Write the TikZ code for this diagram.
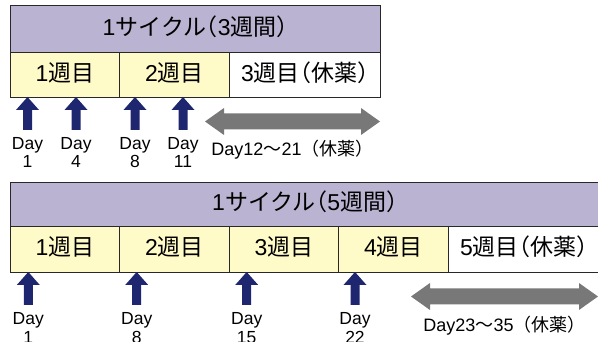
\documentclass[tikz,border=0pt]{standalone}
\usepackage{fontspec}
\setmainfont{Liberation Sans}
\newfontfamily\jph{Noto Sans CJK JP}[RawFeature=+halt]
\newfontfamily\jpf{Noto Sans CJK JP}
\definecolor{lav}{RGB}{186,179,209}
\definecolor{wkyel}{RGB}{255,251,200}
\definecolor{navyc}{RGB}{30,38,112}
\definecolor{restgray}{RGB}{120,120,120}
\definecolor{linec}{RGB}{40,40,40}
\tikzset{
  cellbox/.style={draw=linec, line width=0.9pt, inner sep=0pt, anchor=north west,
    text height=16pt, text depth=3.6pt, font=\fontsize{23}{23}\selectfont},
  hdr/.style={cellbox, fill=lav},
  wk/.style={cellbox, fill=wkyel},
  restc/.style={cellbox, fill=white},
  daylbl/.style={anchor=base, inner sep=0pt, font=\fontsize{17.5}{18}\selectfont},
  restlbl/.style={anchor=base, inner sep=0pt, font=\fontsize{18}{18}\selectfont},
  pics/druparrow/.style={code={
    \fill[navyc] (-4.5,33) -- (-4.5,13) -- (-11.5,13) -- (0,0) -- (11.5,13) -- (4.5,13) -- (4.5,33) -- cycle;}},
  pics/restarrow/.style={code={
    \fill[restgray] (0,0) -- (19,-13.5) -- (19,-8) -- (#1-19,-8) -- (#1-19,-13.5) -- (#1,0)
      -- (#1-19,13.5) -- (#1-19,8) -- (19,8) -- (19,13.5) -- cycle;}}
}
\begin{document}
\begin{tikzpicture}[x=1pt,y=-1pt]
\useasboundingbox (0,0) rectangle (598,342);
\clip (0,0) rectangle (598,342);
% ---------- top: 3-week cycle ----------
\node[hdr, minimum width=370pt, minimum height=47pt] (h3) at (10,5) {1{\jph サイクル（}3{\jph 週間）}};
\node[wk, minimum width=109pt, minimum height=45pt] (t1) at (10,52) {1{\jph 週目}};
\node[wk, minimum width=110pt, minimum height=45pt] (t2) at (119,52) {2{\jph 週目}};
\node[restc, minimum width=151pt, minimum height=45pt] (t3) at (229,52) {3{\jph 週目（休薬）}};

\pic (ta1) at (27.5,97) {druparrow};
\pic (ta2) at (76,97) {druparrow};
\pic (ta3) at (135,97) {druparrow};
\pic (ta4) at (183,97) {druparrow};
\node[daylbl] (td1) at (27.5,150) {Day};
\node[daylbl] (tn1) at (27.5,168) {1};
\node[daylbl] (td2) at (76,150) {Day};
\node[daylbl] (tn2) at (76,168) {4};
\node[daylbl] (td3) at (135,150) {Day};
\node[daylbl] (tn3) at (135,168) {8};
\node[daylbl] (td4) at (183,150) {Day};
\node[daylbl] (tn4) at (183,168) {11};

\pic (tr) at (205,121.5) {restarrow=175};
\node[restlbl] (trl) at (292.5,156) {Day12{\jpf ～}21{\jpf （休薬）}};

% ---------- bottom: 5-week cycle ----------
\node[hdr, minimum width=589pt, minimum height=44pt] (h5) at (10,182) {1{\jph サイクル（}5{\jph 週間）}};
\node[wk, minimum width=109pt, minimum height=46pt] (b1) at (10,226) {1{\jph 週目}};
\node[wk, minimum width=110pt, minimum height=46pt] (b2) at (119,226) {2{\jph 週目}};
\node[wk, minimum width=109pt, minimum height=46pt] (b3) at (229,226) {3{\jph 週目}};
\node[wk, minimum width=110pt, minimum height=46pt] (b4) at (338,226) {4{\jph 週目}};
\node[restc, minimum width=151pt, minimum height=46pt] (b5) at (448,226) {5{\jph 週目（休薬）}};

\pic (ba1) at (28.3,272) {druparrow};
\pic (ba2) at (136.7,272) {druparrow};
\pic (ba3) at (246.7,272) {druparrow};
\pic (ba4) at (355,272) {druparrow};
\node[daylbl] (bd1) at (28.3,325) {Day};
\node[daylbl] (bn1) at (28.3,343) {1};
\node[daylbl] (bd2) at (136.7,325) {Day};
\node[daylbl] (bn2) at (136.7,343) {8};
\node[daylbl] (bd3) at (246.7,325) {Day};
\node[daylbl] (bn3) at (246.7,343) {15};
\node[daylbl] (bd4) at (355,325) {Day};
\node[daylbl] (bn4) at (355,343) {22};

\pic (br) at (411,296.5) {restarrow=187};
\node[restlbl] (brl) at (504.5,331) {Day23{\jpf ～}35{\jpf （休薬）}};
\end{tikzpicture}
\end{document}
